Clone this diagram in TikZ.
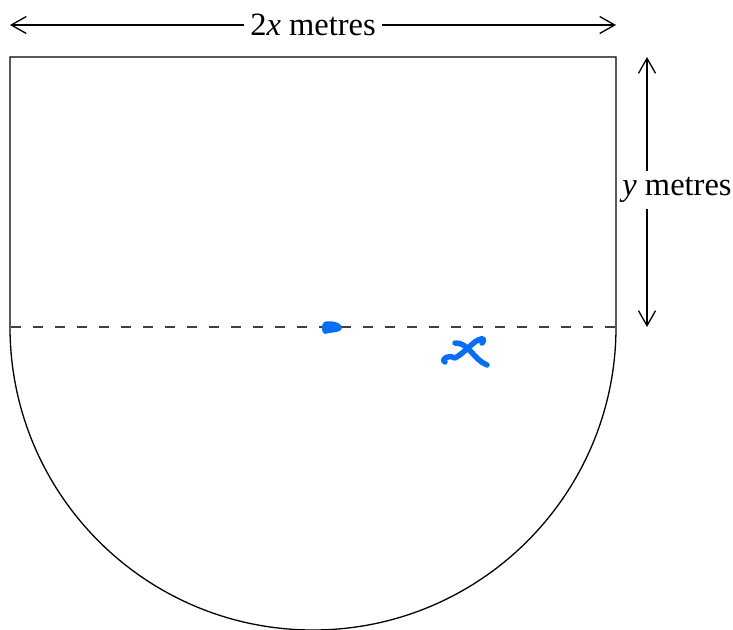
\documentclass[tikz,border=0pt]{standalone}
\usepackage{fontspec}
\setmainfont{Liberation Serif}
\usetikzlibrary{arrows.meta}
\definecolor{inkblue}{HTML}{0A6EF5}
\tikzset{
  outline/.style={line width=1.3pt, black},
  dimarrow/.style={line width=1.3pt, {Straight Barb[length=15pt,width=17pt]}-{Straight Barb[length=15pt,width=17pt]}},
  dimlabel/.style={fill=white, inner sep=6pt, font=\fontsize{32.5}{38}\selectfont},
  ink/.style={inkblue, line width=5.5pt, line cap=round, line join=round}
}
\begin{document}
\begin{tikzpicture}[x=1pt,y=-1pt]
\useasboundingbox (0,0) rectangle (733,629);
\coordinate (TL) at (10,57);
\coordinate (TR) at (616,57);
\coordinate (ML) at (10,327);
\coordinate (MR) at (616,327);
\coordinate (AL) at (10,25);
\coordinate (AR) at (616,25);
\coordinate (VT) at (647,57);
\coordinate (VB) at (647,327);
% shape
\draw[outline] (ML) -- (TL) -- (TR) -- (MR) arc[start angle=0,end angle=180,radius=303];
\draw[line width=1.3pt, black!75, dash pattern=on 10pt off 12pt, dash phase=-1pt] (ML) -- (MR);
% dimensions
\draw[dimarrow] (AL) -- (AR) node[midway, dimlabel] (wlab) {2\textit{x} metres};
\draw[dimarrow] (VT) -- (VB);
\node[dimlabel, inner sep=1pt, inner ysep=6pt] (hlab) at (677,190) {\textit{y} metres};
% handwriting
\fill[inkblue] (324,322) .. controls (330,320) and (342,322) .. (342,328) .. controls (342,333) and (330,332) .. (325,334) .. controls (321,333) and (321,325) .. (324,322) -- cycle;
\draw[ink] (455,343) .. controls (468,342) and (474,360) .. (487,365);
\draw[ink] (445,362) .. controls (440,359) and (450,354) .. (455,358) .. controls (466,352) and (474,340) .. (481,339) .. controls (484,337) and (484,342) .. (482,343);
\end{tikzpicture}
\end{document}
